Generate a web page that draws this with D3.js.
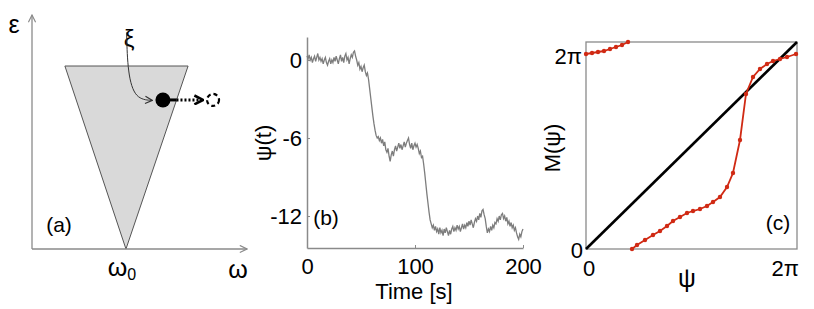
<!DOCTYPE html>
<html><head><meta charset="utf-8">
<script src="https://cdn.jsdelivr.net/npm/d3@7/dist/d3.min.js"></script>
<style>
body{margin:0;background:#fff;}
svg{display:block;font-family:"Liberation Sans",Arial,sans-serif;}
</style></head>
<body><svg id="c" width="814" height="309"></svg>
<script>
// ---------- Panel (a): schematic (units: omega 0..10, epsilon 0..10) ----------
const triangle = [[1.53, 7.82], [7.26, 7.82], [4.37, 0]];
const omega0 = 4.37;
const particle = {x: 6.09, y: 6.37};
const edgeX = 6.72, arrowTipX = 7.91, ghostX = 8.42;
const xiCurve = [[4.4, 9.25], [4.45, 7.5], [4.8, 6.4], [5.6, 6.35]];

// ---------- Panel (b): psi(t) trace, one value per second 0..200 ----------
const timeTicks = [0, 100, 200];
const psiTicks = [0, -6, -12];
const psiValues = [
 0.3,0.1,0.4,0.0,0.2,-0.2,0.1,0.3,-0.1,0.2,0.5,0.0,0.2,-0.1,0.1,-0.3,0.0,0.2,-0.2,-0.4,
 -0.1,0.1,-0.3,0.0,-0.2,0.2,-0.1,0.3,0.0,-0.3,0.1,0.4,-0.1,0.2,-0.2,0.3,0.5,0.0,0.2,-0.3,
 0.1,0.4,0.2,0.6,0.7,0.3,
 0.0,-0.4,-0.2,-0.7,-0.5,-0.9,-0.6,-0.4,-0.9,-1.2,-1.0,
 -1.5,-2.2,-2.9,-3.6,-4.3,-4.9,-5.4,-5.8,-6.0,-5.9,
 -6.2,-6.0,-6.4,-6.1,-6.6,-6.3,-6.9,-7.1,-6.8,-7.4,-7.8,-7.3,-7.0,-7.4,-6.9,-6.6,-7.0,-6.7,-6.4,-6.8,
 -6.5,-6.9,-6.6,-6.3,-6.7,-6.4,-6.2,-6.0,-6.5,-6.8,-6.4,-6.9,-6.6,-6.4,-6.7,-6.5,-6.8,-7.2,-7.0,-7.5,-7.4,
 -8.0,-8.7,-9.5,-10.3,-11.0,-11.7,-12.3,-12.6,-12.9,
 -12.7,-13.1,-12.8,-13.2,-13.0,-13.4,-12.9,-13.3,-13.1,-13.5,-13.0,-13.3,-12.9,-13.2,-13.5,-13.1,-13.4,-13.0,-12.8,-13.2,
 -12.9,-13.1,-12.7,-13.0,-12.8,-13.2,-12.9,-12.6,-13.0,-12.7,-12.9,-12.5,-12.8,-12.4,-12.7,-12.3,-12.6,-12.9,-12.5,-12.2,
 -12.4,-12.0,-12.3,-11.8,-12.1,-11.6,-11.5,-11.9,-12.2,-12.8,-13.3,-13.0,-13.2,-12.8,-13.1,-12.7,-12.9,-12.5,-12.6,-12.2,
 -12.4,-12.0,-12.3,-11.9,-11.8,-12.2,-12.0,-12.4,-12.1,-12.6,-12.4,-12.8,-12.5,-12.9,-12.7,-13.1,-12.9,-13.3,-13.6,-13.8,-13.4,-13.6,-13.2,-13.0
];

// ---------- Panel (c): map M(psi) (radians) ----------
const TWO_PI = 2 * Math.PI;
const mapPsiTop = [0, 0.179, 0.357, 0.536, 0.715, 0.893, 1.072, 1.251];
const mapMTop   = [5.919, 5.949, 5.980, 6.010, 6.071, 6.132, 6.192, 6.283];
const mapPsiMain = [1.370,1.519,1.757,1.995,2.204,2.412,2.591,2.799,3.008,3.186,3.395,3.603,3.782,3.990,4.199,4.377,4.586,4.764,4.973,5.181,5.390,5.569,5.777,5.986,6.254];
const mapMMain   = [0,0.121,0.273,0.425,0.546,0.698,0.850,0.971,1.093,1.153,1.214,1.305,1.427,1.578,1.882,2.307,3.309,4.705,5.221,5.464,5.615,5.707,5.767,5.828,5.919];
const cTickLabels = ["0", "2\u03c0"];

const FS = 22;
const svg = d3.select("#c");
const defs = svg.append("defs");
function arrowMarker(id, color, w){
  defs.append("marker").attr("id", id).attr("viewBox","0 0 10 10").attr("refX",9).attr("refY",5)
    .attr("markerWidth", w).attr("markerHeight", w).attr("orient","auto").attr("markerUnits","userSpaceOnUse")
    .append("path").attr("d","M1,1 L9,5 L1,9").attr("fill","none").attr("stroke",color).attr("stroke-width",1.3);
}
arrowMarker("axArrow", "#8a8a8a", 9);
arrowMarker("xiArrow", "#333", 9);
defs.append("marker").attr("id","dotArrow").attr("viewBox","0 0 10 10").attr("refX",8).attr("refY",5)
  .attr("markerWidth",11).attr("markerHeight",11).attr("orient","auto").attr("markerUnits","userSpaceOnUse")
  .append("path").attr("d","M1,1 L9,5 L1,9").attr("fill","none").attr("stroke","#000").attr("stroke-width",2.4);

// ===== Panel (a) =====
const xA = d3.scaleLinear([0, 10], [32, 247]);
const yA = d3.scaleLinear([0, 10], [249, 15]);
const gA = svg.append("g");
gA.append("path")
  .attr("d", d3.line().x(d => xA(d[0])).y(d => yA(d[1]))(triangle) + "Z")
  .attr("fill", "#d9d9d9").attr("stroke", "#555").attr("stroke-width", 1);
gA.append("line").attr("x1", xA(0)).attr("y1", yA(0)).attr("x2", xA(0)).attr("y2", yA(10))
  .attr("stroke", "#8a8a8a").attr("stroke-width", 1.3).attr("marker-end", "url(#axArrow)");
gA.append("line").attr("x1", xA(0)).attr("y1", yA(0)).attr("x2", xA(10)).attr("y2", yA(0))
  .attr("stroke", "#8a8a8a").attr("stroke-width", 1.3).attr("marker-end", "url(#axArrow)");
gA.append("text").attr("x", 14).attr("y", 33).attr("font-size", 25).attr("text-anchor","middle").text("\u03b5");
gA.append("text").attr("x", 238).attr("y", 278).attr("font-size", 25).attr("text-anchor","middle").text("\u03c9");
const w0 = gA.append("text").attr("x", xA(omega0) - 4).attr("y", 276).attr("font-size", 25).attr("text-anchor","middle");
w0.append("tspan").text("\u03c9");
w0.append("tspan").attr("font-size", 16).attr("dy", 4).text("0");
gA.append("text").attr("x", 59).attr("y", 232).attr("font-size", 21).attr("text-anchor","middle").text("(a)");
gA.append("text").attr("x", 129).attr("y", 47).attr("font-size", 24).attr("text-anchor","middle").text("\u03be");
gA.append("path")
  .attr("d", d3.line().x(d => xA(d[0])).y(d => yA(d[1])).curve(d3.curveBasis)(xiCurve))
  .attr("fill","none").attr("stroke","#333").attr("stroke-width",1).attr("marker-end","url(#xiArrow)");
gA.append("line").attr("x1", xA(particle.x)).attr("x2", xA(edgeX)).attr("y1", yA(particle.y)).attr("y2", yA(particle.y))
  .attr("stroke","#000").attr("stroke-width",3);
gA.append("line").attr("x1", xA(edgeX)).attr("x2", xA(arrowTipX)).attr("y1", yA(particle.y)).attr("y2", yA(particle.y))
  .attr("stroke","#000").attr("stroke-width",3).attr("stroke-dasharray","2,2").attr("marker-end","url(#dotArrow)");
gA.append("circle").attr("cx", xA(particle.x)).attr("cy", yA(particle.y)).attr("r", 7.5).attr("fill","#000");
gA.append("circle").attr("cx", xA(ghostX)).attr("cy", yA(particle.y)).attr("r", 6)
  .attr("fill","none").attr("stroke","#000").attr("stroke-width",2.2).attr("stroke-dasharray","4,3");

// ===== Panel (b) =====
const xB = d3.scaleLinear([0, 200], [307, 523]);
const yB = d3.scaleLinear([1.77, -14.46], [37, 248]);
const gB = svg.append("g");
const axB = gB.append("g").attr("transform", `translate(0,${yB(-14.46)})`)
  .call(d3.axisBottom(xB).tickValues(timeTicks).tickSizeInner(-3).tickSizeOuter(0).tickPadding(10).tickFormat(d3.format("d")));
const ayB = gB.append("g").attr("transform", `translate(${xB(0)},0)`)
  .call(d3.axisLeft(yB).tickValues(psiTicks).tickSizeInner(-3).tickSizeOuter(0).tickPadding(5).tickFormat(d => d === 0 ? "0" : "-" + Math.abs(d)));
[axB, ayB].forEach(a => {
  a.select(".domain").attr("stroke","#8a8a8a").attr("stroke-width",1.5);
  a.selectAll(".tick line").attr("stroke","#8a8a8a");
  a.selectAll(".tick text").attr("font-size", FS).attr("fill","#000").attr("font-family","Liberation Sans, Arial, sans-serif");
});
ayB.selectAll(".tick text").attr("dy","0.36em");
gB.append("path")
  .datum(psiValues)
  .attr("d", d3.line().x((d, i) => xB(i * 200 / (psiValues.length - 1))).y(d => yB(d)))
  .attr("fill","none").attr("stroke","#7d7d7d").attr("stroke-width",1.3);
gB.append("text").attr("x", 414).attr("y", 299).attr("font-size", FS).attr("text-anchor","middle").text("Time [s]");
gB.append("text").attr("transform","translate(271,143) rotate(-90)").attr("font-size", FS).attr("text-anchor","middle").text("\u03c8(t)");
gB.append("text").attr("x", 326).attr("y", 225).attr("font-size", 21).attr("text-anchor","middle").text("(b)");

// ===== Panel (c) =====
const xC = d3.scaleLinear([0, TWO_PI], [586, 797]);
const yC = d3.scaleLinear([0, TWO_PI], [249, 42]);
const gC = svg.append("g");
gC.append("rect").attr("x", xC(0)).attr("y", yC(TWO_PI)).attr("width", xC(TWO_PI) - xC(0)).attr("height", yC(0) - yC(TWO_PI))
  .attr("fill","none").attr("stroke","#8a8a8a").attr("stroke-width",1.3);
gC.append("line").attr("x1", xC(0)).attr("y1", yC(0)).attr("x2", xC(TWO_PI)).attr("y2", yC(TWO_PI))
  .attr("stroke","#000").attr("stroke-width",2.6);
const lineC = d3.line().x(d => xC(d[0])).y(d => yC(d[1]));
[[mapPsiTop, mapMTop], [mapPsiMain, mapMMain]].forEach(([ps, ms]) => {
  const pts = ps.map((p, i) => [p, ms[i]]);
  gC.append("path").attr("d", lineC(pts)).attr("fill","none").attr("stroke","#d02a14").attr("stroke-width",1.8);
  gC.selectAll(null).data(pts).enter().append("circle")
    .attr("cx", d => xC(d[0])).attr("cy", d => yC(d[1])).attr("r", 2.2).attr("fill","#d02a14");
});
gC.append("text").attr("x", 589).attr("y", 276).attr("font-size", FS).attr("text-anchor","middle").text(cTickLabels[0]);
gC.append("text").attr("x", 799).attr("y", 276).attr("font-size", FS).attr("text-anchor","end").text(cTickLabels[1]);
gC.append("text").attr("x", 583).attr("y", 258).attr("font-size", FS).attr("text-anchor","end").text(cTickLabels[0]);
gC.append("text").attr("x", 582).attr("y", 64).attr("font-size", FS).attr("text-anchor","end").text(cTickLabels[1]);
gC.append("text").attr("x", 687).attr("y", 287).attr("font-size", 25).attr("text-anchor","middle").text("\u03c8");
gC.append("text").attr("transform","translate(560,148) rotate(-90)").attr("font-size", FS).attr("text-anchor","middle").text("M(\u03c8)");
gC.append("text").attr("x", 778).attr("y", 230).attr("font-size", 21).attr("text-anchor","middle").text("(c)");
</script></body></html>
